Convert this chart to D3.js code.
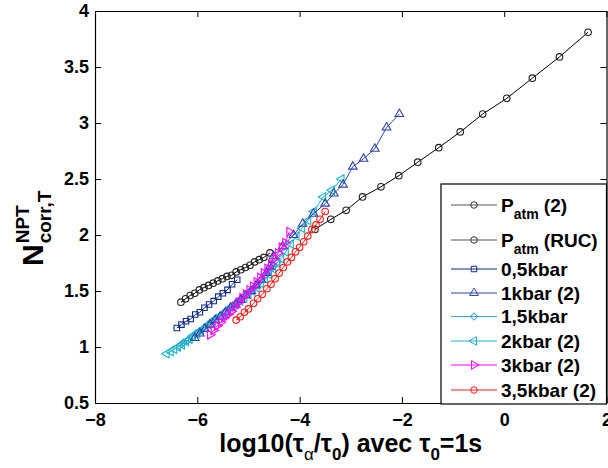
<!DOCTYPE html>
<html><head><meta charset="utf-8">
<script src="https://cdn.jsdelivr.net/npm/d3@7"></script>
<style>
body{margin:0;background:#fff}
svg{display:block}
text{font-family:"Liberation Sans",Arial,Helvetica,sans-serif;font-weight:bold;fill:#000}
</style>
</head><body>
<svg id="c" width="608" height="468"></svg>
<script>
// ---------- data ----------
const xTicks = [-8, -6, -4, -2, 0, 2];
const yTicks = [0.5, 1, 1.5, 2, 2.5, 3, 3.5, 4];
const legendLabels = ["Patm (2)", "Patm (RUC)", "0,5kbar", "1kbar (2)", "1,5kbar", "2kbar (2)", "3kbar (2)", "3,5kbar (2)"];
const seriesColors = ["#000000", "#000000", "#102a82", "#2f43a8", "#3c9fe0", "#1cb6c4", "#ff00ff", "#ff1c1c"];
const seriesMarkers = ["circle", "circle", "square", "triUp", "diamond", "triLeft", "triRight", "circle"];

const patm2X = [-3.70, -3.39, -3.09, -2.77, -2.41, -2.06, -1.69, -1.28, -0.86, -0.42, 0.05, 0.55, 1.08, 1.64];
const patm2Y = [2.05, 2.14, 2.22, 2.34, 2.43, 2.53, 2.65, 2.78, 2.92, 3.08, 3.22, 3.40, 3.59, 3.81];

const patmRucX = [-6.32, -6.23, -6.14, -6.05, -5.96, -5.87, -5.78, -5.69, -5.60, -5.51, -5.42, -5.33, -5.24, -5.15, -5.06, -4.97, -4.88, -4.79, -4.70, -4.58];
const patmRucY = [1.40, 1.43, 1.46, 1.48, 1.51, 1.53, 1.55, 1.57, 1.59, 1.61, 1.63, 1.64, 1.67, 1.69, 1.71, 1.73, 1.76, 1.78, 1.80, 1.84];

const k05X = [-6.40, -6.31, -6.22, -6.13, -6.04, -5.95, -5.86, -5.77, -5.68, -5.59, -5.50, -5.41, -5.32, -5.22];
const k05Y = [1.17, 1.20, 1.23, 1.25, 1.29, 1.31, 1.35, 1.38, 1.41, 1.45, 1.48, 1.51, 1.56, 1.60];

const k1X = [-6.05, -5.95, -5.85, -5.75, -5.65, -5.55, -5.45, -5.35, -5.25, -5.15, -5.05, -4.95, -4.85, -4.75, -4.65, -4.58, -4.51, -4.33, -4.12, -3.94, -3.73, -3.50, -3.33, -3.15, -2.96, -2.75, -2.53, -2.30, -2.05];
const k1Y = [1.08, 1.12, 1.16, 1.20, 1.24, 1.27, 1.31, 1.35, 1.38, 1.42, 1.46, 1.50, 1.55, 1.60, 1.66, 1.72, 1.81, 1.90, 2.00, 2.10, 2.19, 2.28, 2.37, 2.45, 2.61, 2.68, 2.77, 2.96, 3.08];

const k15X = [-6.35, -6.27, -6.19, -6.11, -6.03, -5.95, -5.87, -5.79, -5.71, -5.63, -5.55, -5.47, -5.39, -5.31, -5.23, -5.15, -5.07, -4.99, -4.91, -4.83, -4.75, -4.67, -4.59, -4.51, -4.43];
const k15Y = [1.01, 1.04, 1.06, 1.09, 1.12, 1.14, 1.17, 1.20, 1.23, 1.26, 1.28, 1.31, 1.34, 1.37, 1.40, 1.43, 1.46, 1.49, 1.52, 1.56, 1.60, 1.64, 1.68, 1.72, 1.76];

const k2X = [-6.60, -6.52, -6.45, -6.38, -6.30, -6.22, -6.15, -6.08, -6.00, -5.93, -5.86, -5.78, -5.70, -5.62, -5.55, -5.47, -5.40, -5.32, -5.24, -5.16, -5.08, -5.00, -4.92, -4.84, -4.76, -4.68, -4.60, -4.52, -4.44, -4.36, -4.27, -4.17, -4.06, -3.95, -3.83, -3.72, -3.54, -3.37, -3.18];
const k2Y = [0.94, 0.96, 0.98, 1.00, 1.02, 1.05, 1.07, 1.10, 1.12, 1.15, 1.17, 1.20, 1.23, 1.25, 1.28, 1.30, 1.33, 1.36, 1.38, 1.41, 1.44, 1.47, 1.50, 1.53, 1.57, 1.61, 1.65, 1.70, 1.75, 1.79, 1.85, 1.92, 1.99, 2.06, 2.13, 2.21, 2.34, 2.40, 2.50];

const k3X = [-5.75, -5.68, -5.61, -5.54, -5.47, -5.40, -5.33, -5.26, -5.19, -5.12, -5.05, -4.98, -4.91, -4.84, -4.77, -4.70, -4.63, -4.56, -4.49, -4.42, -4.35, -4.28, -4.20];
const k3Y = [1.11, 1.15, 1.19, 1.22, 1.26, 1.29, 1.32, 1.36, 1.40, 1.44, 1.47, 1.51, 1.54, 1.58, 1.62, 1.66, 1.70, 1.74, 1.79, 1.84, 1.89, 1.93, 2.03];

const k35X = [-5.24, -5.16, -5.08, -5.00, -4.90, -4.82, -4.73, -4.64, -4.56, -4.48, -4.40, -4.32, -4.24, -4.16, -4.08, -4.00, -3.92, -3.84, -3.76, -3.68, -3.60, -3.50];
const k35Y = [1.24, 1.27, 1.31, 1.34, 1.39, 1.43, 1.47, 1.52, 1.56, 1.61, 1.66, 1.71, 1.76, 1.80, 1.85, 1.89, 1.94, 1.99, 2.05, 2.09, 2.14, 2.21];

const seriesX = [patm2X, patmRucX, k05X, k1X, k15X, k2X, k3X, k35X];
const seriesY = [patm2Y, patmRucY, k05Y, k1Y, k15Y, k2Y, k3Y, k35Y];
// draw order (back to front)
const drawOrder = [1, 0, 2, 4, 5, 3, 6, 7];

// ---------- layout ----------
const L = 95, R = 606.5, T = 11, B = 403;
const svg = d3.select("#c");
const x = d3.scaleLinear().domain([-8, 2]).range([L, R]);
const y = d3.scaleLinear().domain([0.5, 4]).range([B, T]);

const fmt = d => String(d).replace("-", "\u2212");

// axes
const gx = svg.append("g").attr("transform", `translate(0,${B})`)
  .call(d3.axisBottom(x).tickValues(xTicks).tickFormat(fmt).tickSizeInner(-6).tickSizeOuter(0).tickPadding(10));
const gxt = svg.append("g").attr("transform", `translate(0,${T})`)
  .call(d3.axisTop(x).tickValues(xTicks).tickFormat("").tickSizeInner(-6).tickSizeOuter(0));
const gy = svg.append("g").attr("transform", `translate(${L},0)`)
  .call(d3.axisLeft(y).tickValues(yTicks).tickFormat(d => String(d)).tickSizeInner(-6).tickSizeOuter(0).tickPadding(6));
const gyr = svg.append("g").attr("transform", `translate(${R},0)`)
  .call(d3.axisRight(y).tickValues(yTicks).tickFormat("").tickSizeInner(-6).tickSizeOuter(0));
[gx, gxt, gy, gyr].forEach(g => {
  g.selectAll("path.domain").attr("stroke", "#000").attr("stroke-width", 1.2);
  g.selectAll(".tick line").attr("stroke", "#000").attr("stroke-width", 1);
  g.selectAll("text").attr("font-size", 18).attr("font-family", "Liberation Sans, Arial, sans-serif").attr("font-weight", "bold").attr("fill", "#000");
});

// markers
function markerPath(kind) {
  switch (kind) {
    case "circle": return d3.symbol(d3.symbolCircle, 34)();
    case "square": return d3.symbol(d3.symbolSquare, 30)();
    case "diamond": return d3.symbol(d3.symbolSquare, 26)();
    default: return d3.symbol(d3.symbolTriangle, 32)();
  }
}
function markerRot(kind) {
  if (kind === "diamond") return 45;
  if (kind === "triLeft") return -90;
  if (kind === "triRight") return 90;
  return 0;
}

const plot = svg.append("g");
const line = d3.line().x(d => x(d[0])).y(d => y(d[1]));
drawOrder.forEach(i => {
  const pts = seriesX[i].map((v, j) => [v, seriesY[i][j]]);
  const col = seriesColors[i];
  const g = plot.append("g");
  g.append("path").datum(pts).attr("d", line).attr("fill", "none").attr("stroke", col).attr("stroke-width", 1);
  g.selectAll("path.m").data(pts).join("path").attr("class", "m")
    .attr("d", markerPath(seriesMarkers[i]))
    .attr("transform", d => `translate(${x(d[0])},${y(d[1])}) rotate(${markerRot(seriesMarkers[i])})`)
    .attr("fill", "none").attr("stroke", i < 2 ? "#222" : col).attr("stroke-width", 1.1);
});

// legend
const lg = svg.append("g");
const lgX0 = 441, lgY0 = 184, lgX1 = 606.5, lgY1 = 404;
lg.append("rect").attr("x", lgX0).attr("y", lgY0).attr("width", lgX1 - lgX0).attr("height", lgY1 - lgY0)
  .attr("fill", "#fff").attr("stroke", "#000").attr("stroke-width", 1.2);
const rowY = [205, 240, 269, 293, 316.5, 341, 365, 390];
legendLabels.forEach((lab, i) => {
  const yy = rowY[i];
  lg.append("line").attr("x1", 451).attr("x2", 497).attr("y1", yy).attr("y2", yy)
    .attr("stroke", i < 2 ? "#555" : seriesColors[i]).attr("stroke-width", 1.2);
  lg.append("path").attr("d", markerPath(seriesMarkers[i]))
    .attr("transform", `translate(474,${yy}) rotate(${markerRot(seriesMarkers[i])})`)
    .attr("fill", "none").attr("stroke", i < 2 ? "#333" : seriesColors[i]).attr("stroke-width", 1);
  const t = lg.append("text").attr("x", 501).attr("y", yy + 6.5).attr("font-size", 19);
  const m = lab.match(/^P(atm)(.*)$/);
  if (m) {
    t.append("tspan").text("P");
    t.append("tspan").attr("font-size", 14).attr("dy", 7).text(m[1]);
    t.append("tspan").attr("dy", -7).text(m[2].replace(" ", "\u00a0"));
  } else {
    t.text(lab);
  }
});

// x label
const xl = svg.append("text").attr("x", (L + R) / 2).attr("y", 452).attr("text-anchor", "middle").attr("font-size", 25);
xl.append("tspan").text("log10(\u03c4");
xl.append("tspan").attr("font-size", 17).attr("dy", 8).attr("font-weight", "normal").text("\u03b1");
xl.append("tspan").attr("dy", -8).text("/\u03c4");
xl.append("tspan").attr("font-size", 17).attr("dy", 8).text("0");
xl.append("tspan").attr("dy", -8).text(")\u00a0avec\u00a0\u03c4");
xl.append("tspan").attr("font-size", 17).attr("dy", 8).text("0");
xl.append("tspan").attr("dy", -8).text("=1s");

// y label
const yl = svg.append("g").attr("transform", "translate(43,222) rotate(-90)");
const nT = yl.append("text").attr("x", -44).attr("y", 0).attr("font-size", 30).text("N");
const wN = nT.node().getComputedTextLength();
yl.append("text").attr("x", -44 + wN + 1).attr("y", -14).attr("font-size", 19).text("NPT");
yl.append("text").attr("x", -44 + wN + 1).attr("y", 8).attr("font-size", 19).text("corr,T");
</script>
</body></html>
